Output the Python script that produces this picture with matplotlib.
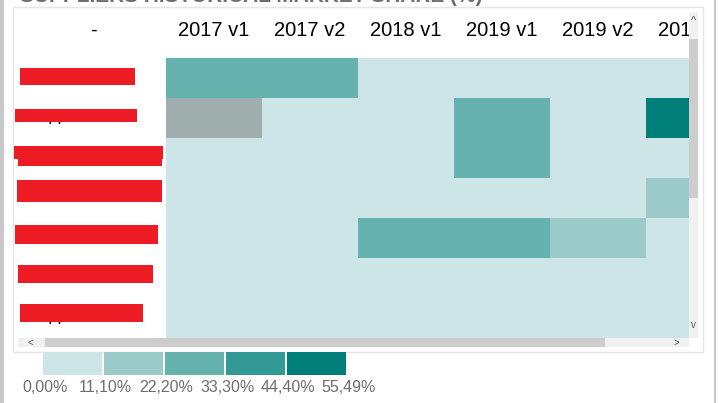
import numpy as np
import matplotlib
matplotlib.use('Agg')
import matplotlib.pyplot as plt
from matplotlib.colors import ListedColormap, BoundaryNorm
from matplotlib.patches import Rectangle

# datos
columnas = ['2017 v1', '2017 v2', '2018 v1', '2019 v1', '2019 v2', '2019 v3']
proveedores = ['Supplier A', 'Supplier B', 'Supplier C', 'Supplier D',
               'Supplier E', 'Supplier F', 'Supplier G']
cuota = np.array([
    [25.0, 24.0, 2.0, 3.0, 2.0, 4.0],
    [np.nan, 5.0, 4.0, 28.0, 6.0, 55.49],
    [3.0, 6.0, 8.0, 30.0, 5.0, 2.0],
    [1.0, 2.0, 4.0, 3.0, 5.0, 15.0],
    [2.0, 3.0, 27.0, 26.0, 16.0, 7.0],
    [0.0, 1.0, 2.0, 1.0, 3.0, 2.0],
    [4.0, 5.0, 3.0, 2.0, 1.0, 0.0],
])
limites = [0.0, 11.10, 22.20, 33.30, 44.40, 55.49]
etiquetas_leyenda = ['0,00%', '11,10%', '22,20%', '33,30%', '44,40%', '55,49%']
colores = ['#CDE5E6', '#9ACBC8', '#66B2AE', '#339994', '#007F79']

W, H = 718, 403
fig = plt.figure(figsize=(W / 100, H / 100), dpi=100)
fig.patch.set_facecolor('white')
plt.rcParams['font.family'] = ['Liberation Sans', 'DejaVu Sans']


def caja(x0, y0, x1, y1):
    return [x0 / W, 1 - y1 / H, (x1 - x0) / W, (y1 - y0) / H]


# heatmap
cmap = ListedColormap(colores)
cmap.set_bad('#A0AFAE')
norm = BoundaryNorm(limites[:-1] + [1000], cmap.N)
ancho_col = 96
ax = fig.add_axes(caja(166, 58, 689, 338))
ax.pcolormesh(np.ma.masked_invalid(cuota), cmap=cmap, norm=norm)
ax.set_xlim(0, (689 - 166) / ancho_col)
ax.set_ylim(len(proveedores), 0)
ax.axis('off')

# cabecera de columnas (recortada como en el visual)
axh = fig.add_axes(caja(166, 8, 689, 58))
axh.set_xlim(0, (689 - 166) / ancho_col)
axh.set_ylim(50, 0)
axh.axis('off')
for i, c in enumerate(columnas):
    axh.text(i + 0.5, 22, c, ha='center', va='center', fontsize=14.5,
             color='black', clip_on=True)

# capa superior en pixeles
ov = fig.add_axes([0, 0, 1, 1], facecolor='none')
ov.set_xlim(0, W)
ov.set_ylim(H, 0)
ov.axis('off')

ov.text(20, 2, 'SUPPLIERS HISTORICAL MARKET SHARE (%)', fontsize=15,
        fontweight='bold', color='#6E6E6E', va='baseline')
ov.text(93, 30, '-', ha='center', va='center', fontsize=14.5, color='black')

# marcos
ov.add_patch(Rectangle((13, 7), 690, 345, fill=False, ec='#E6E6E6', lw=1))
ov.plot([1.5, 1.5], [0, H], color='#C8C8C8', lw=3)
ov.plot([714.5, 714.5], [0, H], color='#C8C8C8', lw=1.5)

# nombres de fila y tachones rojos
rojos = [(20, 68, 135, 85), (15, 109, 137, 122), (14, 146, 163, 159),
         (18, 159, 162, 166), (17, 180, 162, 202), (15, 225, 158, 244),
         (18, 265, 153, 283), (20, 304, 143, 322)]
centros = [77, 117, 157, 194, 235, 274, 316]
for p, yc in zip(proveedores, centros):
    ov.text(28, yc, p, va='center', fontsize=12, color='black')
for x0, y0, x1, y1 in rojos:
    ov.add_patch(Rectangle((x0, y0), x1 - x0, y1 - y0, color='#ED1C24', lw=0, zorder=5))

# barras de desplazamiento
ov.add_patch(Rectangle((689, 12), 9, 326, color='#F0F0F0', lw=0))
ov.add_patch(Rectangle((689, 39), 9, 159, color='#CDCDCD', lw=0))
ov.text(693.5, 21, '^', ha='center', va='center', fontsize=8, color='#555555')
ov.text(693.5, 325, 'v', ha='center', va='center', fontsize=7, color='#555555')
ov.add_patch(Rectangle((18, 338), 671, 9, color='#F0F0F0', lw=0))
ov.add_patch(Rectangle((45, 338), 560, 9, color='#CDCDCD', lw=0))
ov.text(30, 342.5, '<', ha='center', va='center', fontsize=7, color='#555555')
ov.text(676, 342.5, '>', ha='center', va='center', fontsize=7, color='#555555')

# leyenda
for k, col in enumerate(colores):
    ov.add_patch(Rectangle((43 + k * 61, 352), 59, 23, color=col, lw=0))
for k, lab in enumerate(etiquetas_leyenda):
    ov.text(45 + k * 60.8, 387, lab, ha='center', va='center', fontsize=11.5,
            color='#6E6E6E')

fig.savefig('out.png', dpi=100)
